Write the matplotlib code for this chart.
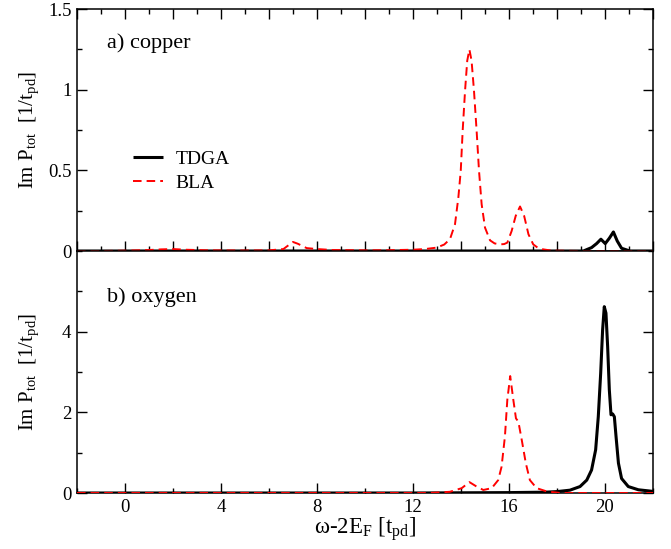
import matplotlib
matplotlib.use("Agg")
import matplotlib.pyplot as plt
from matplotlib.ticker import MultipleLocator

plt.rcParams['font.family'] = ['Liberation Serif', 'DejaVu Serif']
plt.rcParams['mathtext.fontset'] = 'custom'
plt.rcParams['mathtext.rm'] = 'Liberation Serif'
plt.rcParams['mathtext.it'] = 'Liberation Serif:italic'

# --- a) copper ---
cu_tdga_w = [-2.0, 19.1, 19.44, 19.65, 19.83, 20.01, 20.18, 20.35, 20.51, 20.69, 21.04, 22.0]
cu_tdga_p = [0.0, 0.0, 0.021, 0.046, 0.073, 0.046, 0.079, 0.118, 0.062, 0.017, 0.0, 0.0]

cu_bla_w = [-2.0, -1.0, 0.0, 1.0, 1.5, 2.0, 2.5, 3.5, 5.0, 6.0, 6.6, 6.85, 7.0, 7.2,
            7.57, 8.0, 8.67, 10.0, 11.0, 12.0, 12.5, 12.99, 13.3, 13.54, 13.75, 13.89,
            13.99, 14.07, 14.17, 14.26, 14.35, 14.44, 14.54, 14.65, 14.75, 14.86, 15.0,
            15.21, 15.4, 15.63, 15.8, 15.93, 16.11, 16.28, 16.46, 16.63, 16.81, 17.01,
            17.2, 17.43, 17.7, 17.99, 19.0, 20.0, 21.0, 22.0]
cu_bla_p = [0.0, 0.0, 0.002, 0.006, 0.01, 0.012, 0.008, 0.004, 0.003, 0.004, 0.012, 0.04,
            0.056, 0.045, 0.018, 0.012, 0.006, 0.004, 0.005, 0.008, 0.012, 0.021, 0.04,
            0.073, 0.166, 0.332, 0.498, 0.747, 0.996, 1.18, 1.249, 1.18, 0.996, 0.747,
            0.498, 0.29, 0.145, 0.066, 0.047, 0.041, 0.043, 0.052, 0.124, 0.218, 0.276,
            0.218, 0.104, 0.041, 0.02, 0.01, 0.004, 0.002, 0.0, 0.0, 0.0, 0.0]

# --- b) oxygen ---
ox_tdga_w = [-2.0, 12.0, 16.0, 17.5, 18.0, 18.54, 18.96, 19.24, 19.44, 19.61, 19.72,
             19.82, 19.9, 19.97, 20.04, 20.11, 20.18, 20.25, 20.32, 20.39, 20.46, 20.56,
             20.69, 20.97, 21.39, 22.0]
ox_tdga_p = [0.0, 0.0, 0.01, 0.02, 0.035, 0.07, 0.16, 0.32, 0.57, 1.07, 1.89, 2.97, 4.04,
             4.62, 4.46, 3.63, 2.56, 1.94, 1.96, 1.89, 1.40, 0.74, 0.36, 0.16, 0.08, 0.04]

ox_bla_w = [-2.0, 12.7, 13.54, 14.03, 14.35, 14.65, 14.93, 15.28, 15.55, 15.69, 15.83,
            15.93, 16.05, 16.18, 16.29, 16.39, 16.53, 16.7, 16.87, 17.15, 17.57, 18.13, 22.0]
ox_bla_p = [0.0, 0.0, 0.03, 0.12, 0.27, 0.16, 0.075, 0.12, 0.32, 0.65, 1.40, 2.31, 2.90,
            2.31, 1.85, 1.77, 1.32, 0.74, 0.32, 0.12, 0.04, 0.0, 0.0]

panel_labels = ['a) copper', 'b) oxygen']
ylabel = r'Im P$_{\rm tot}$  [1/t$_{\rm pd}$]'
xlabel = r'ω-2E$_{\rm F}$ [t$_{\rm pd}$]'

W, H = 671, 549
fig = plt.figure(figsize=(W / 100, H / 100), dpi=100)
left, width = 77 / W, 576 / W
ax_top = fig.add_axes([left, 298 / H, width, 242 / H])
ax_bot = fig.add_axes([left, 56 / H, width, 242 / H])

tdga_kw = dict(color='black', lw=2.2, solid_capstyle='butt')
bla_kw = dict(color='#ff0000', lw=1.4, dashes=(4.4, 2.6))

ax_top.plot(cu_tdga_w, cu_tdga_p, label='TDGA', zorder=2, **tdga_kw)
ax_top.plot(cu_bla_w, cu_bla_p, label='BLA', zorder=3, **bla_kw)
ax_bot.plot(ox_tdga_w, ox_tdga_p, zorder=2, **tdga_kw)
ax_bot.plot(ox_bla_w, ox_bla_p, zorder=3, **bla_kw)

ax_top.set_ylim(0, 1.5)
ax_bot.set_ylim(0, 6)
for ax in (ax_top, ax_bot):
    ax.set_xlim(-2, 22)
    for s in ax.spines.values():
        s.set_linewidth(1.1)
    ax.tick_params(which='both', direction='in', labelsize=13.5, width=1.0,
                   left=True, right=True, pad=4)
    ax.tick_params(which='major', length=7)
    ax.tick_params(which='minor', length=3.6)
    ax.set_ylabel(ylabel, fontsize=15)
    ax.yaxis.set_label_coords(-0.062, 0.5)

ax_top.xaxis.set_major_locator(MultipleLocator(2))
ax_top.xaxis.set_minor_locator(MultipleLocator(1))
ax_top.yaxis.set_minor_locator(MultipleLocator(0.25))
ax_top.tick_params(which='both', top=True, bottom=True, labelbottom=False)
ax_top.set_yticks([0, 0.5, 1, 1.5])
ax_top.set_yticklabels(['0', '0.5', '1', '1.5'])

ax_bot.xaxis.set_major_locator(MultipleLocator(4))
ax_bot.xaxis.set_minor_locator(MultipleLocator(2))
ax_bot.yaxis.set_minor_locator(MultipleLocator(1))
ax_bot.set_yticks([0, 2, 4])
ax_bot.tick_params(which='both', top=False, bottom=True)
ax_bot.set_xlabel(xlabel, fontsize=16.5, labelpad=0)

ax_top.legend(loc='upper left', frameon=False, fontsize=14,
              bbox_to_anchor=(0.097, 0.415), borderpad=0, borderaxespad=0,
              handlelength=1.55, handletextpad=0.65, labelspacing=0.3)

ax_top.text(0.052, 0.86, panel_labels[0], transform=ax_top.transAxes,
            fontsize=16, va='center', ha='left')
ax_bot.text(0.052, 0.81, panel_labels[1], transform=ax_bot.transAxes,
            fontsize=16, va='center', ha='left')

fig.savefig('out.png', dpi=100)
